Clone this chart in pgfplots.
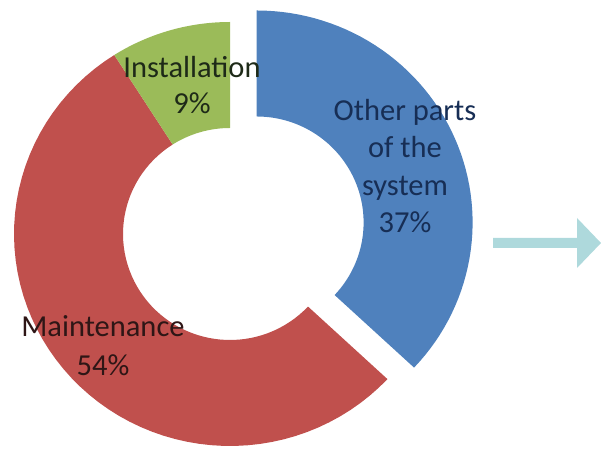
\documentclass[border=0pt]{standalone}
\usepackage{pgfplots}
\pgfplotsset{compat=1.18}
\usepackage{pgfplotstable}
\usepackage{fontspec}
\setmainfont{Carlito}
\definecolor{cblue}{HTML}{4F81BD}
\definecolor{cred}{HTML}{C0504D}
\definecolor{cgreen}{HTML}{9BBB59}
\definecolor{carrow}{HTML}{AED9DC}
\definecolor{tblue}{HTML}{172E55}
\definecolor{tred}{HTML}{2E1616}
\definecolor{tgreen}{HTML}{1E2A18}

\pgfplotstableread{
label share
Other 37
Maintenance 54
Installation 9
}\sharetable

\pgfplotstableread{
x y
493 206
577 206
577 186
601 211
577 236
577 216
493 216
}\arrowtable

% sector: colour, start angle, end angle, centre x, centre y
\newcommand{\sector}[5]{%
\addplot[fill=#1, draw=none, samples at={0,1,...,121}, variable=\t]
 ({#4 + (\t<60.5 ? 216 : 107)*cos(\t<60.5 ? (#2)+((#3)-(#2))*\t/60 : (#3)-((#3)-(#2))*(\t-61)/60)},
  {#5 + (\t<60.5 ? 212 : 106)*sin(\t<60.5 ? (#2)+((#3)-(#2))*\t/60 : (#3)-((#3)-(#2))*(\t-61)/60)});
}

\begin{document}%
\pgfplotstablegetelem{0}{share}\of\sharetable \let\vA\pgfplotsretval%
\pgfplotstablegetelem{1}{share}\of\sharetable \let\vB\pgfplotsretval%
\pgfplotstablegetelem{2}{share}\of\sharetable \let\vC\pgfplotsretval%
\pgfmathsetmacro{\aA}{90}%
\pgfmathsetmacro{\bA}{90-3.6*\vA}%
\pgfmathsetmacro{\bB}{\bA-3.6*\vB}%
\pgfmathsetmacro{\bC}{\bB-3.6*\vC}%
\pgfmathsetmacro{\midA}{(\aA+\bA)/2}%
\pgfmathsetmacro{\bx}{230+29*cos(\midA)}%
\pgfmathsetmacro{\by}{220+29*sin(\midA)}%
\begin{tikzpicture}
\begin{axis}[width=601bp, height=454bp, scale only axis,
  xmin=0, xmax=601, ymin=0, ymax=454, hide axis, clip=false]
\path (axis cs:0,0) rectangle (axis cs:601,454);
\sector{cblue}{\aA}{\bA}{\bx}{\by}
\sector{cred}{\bA}{\bB}{230}{220}
\sector{cgreen}{\bB}{\bC}{230}{220}
\addplot[fill=carrow, draw=none] table[x=x, y=y] {\arrowtable} -- cycle;
\node[align=center, text=tgreen, font=\fontsize{30.5bp}{36bp}\selectfont] at (axis cs:192,369) {Installation\\9\%};
\node[align=center, text=tblue, font=\fontsize{30.5bp}{37.5bp}\selectfont] at (axis cs:405,288) {Other parts\\of the\\system\\37\%};
\node[align=center, text=tred, font=\fontsize{30.5bp}{39bp}\selectfont] at (axis cs:103,108) {Maintenance\\54\%};
\end{axis}
\end{tikzpicture}%
\end{document}
